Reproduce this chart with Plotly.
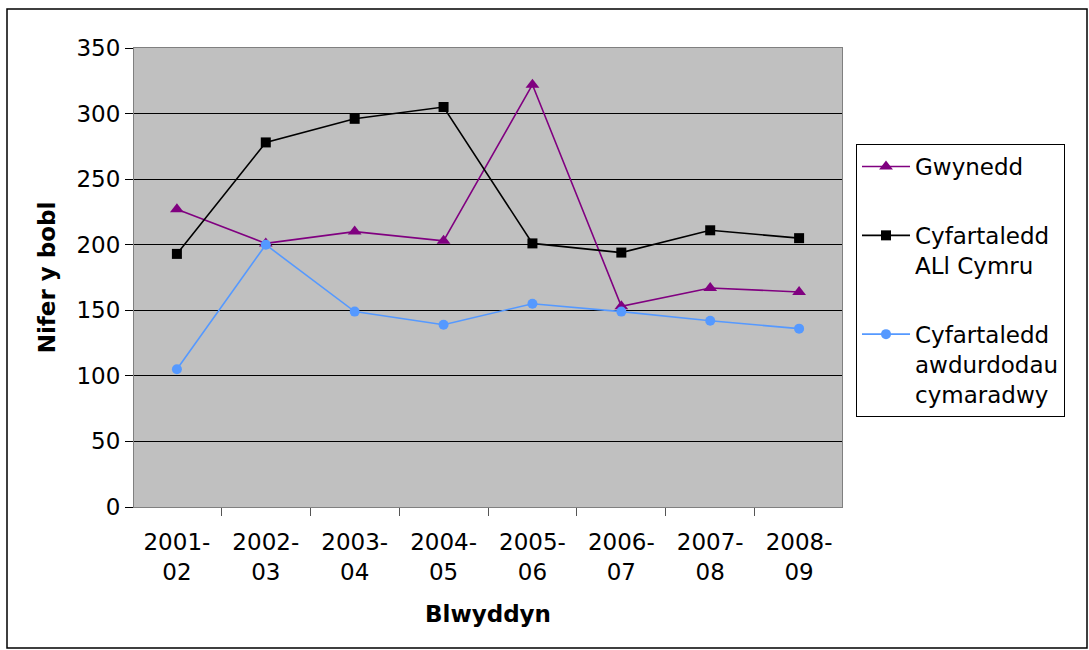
import plotly.graph_objects as go

years = ["2001-<br>02", "2002-<br>03", "2003-<br>04", "2004-<br>05",
         "2005-<br>06", "2006-<br>07", "2007-<br>08", "2008-<br>09"]
gwynedd = [227, 201, 210, 203, 322, 153, 167, 164]
cymru = [193, 278, 296, 305, 201, 194, 211, 205]
cymaradwy = [105, 200, 149, 139, 155, 149, 142, 136]

FONT = "DejaVu Sans"
FS = 23
fig = go.Figure()
fig.add_trace(go.Scatter(x=years, y=gwynedd, name="Gwynedd", mode="lines+markers",
                         legendgroup="a",
                         line=dict(color="#800080", width=1.6),
                         marker=dict(symbol="triangle-up", size=12, color="#800080")))
fig.add_trace(go.Scatter(x=years, y=cymru, name="Cyfartaledd<br>ALl Cymru", mode="lines+markers",
                         legendgroup="b",
                         line=dict(color="#000000", width=1.6),
                         marker=dict(symbol="square", size=10, color="#000000")))
fig.add_trace(go.Scatter(x=years, y=cymaradwy, name="Cyfartaledd<br>awdurdodau<br>cymaradwy",
                         mode="lines+markers", legendgroup="c",
                         line=dict(color="#5599FF", width=1.6),
                         marker=dict(symbol="circle", size=10, color="#5599FF")))

L, R, T, B = 134, 842, 48, 507
W, H = 1089, 650
pw, ph = R - L, B - T

fig.update_layout(
    width=W, height=H,
    margin=dict(l=L, r=W - R, t=T, b=H - B, autoexpand=False),
    paper_bgcolor="white", plot_bgcolor="#C0C0C0",
    font=dict(family=FONT, size=FS, color="black"),
    showlegend=True,
    legend=dict(x=(856 - L) / pw, y=(B - 144) / ph, xanchor="left", yanchor="top",
                bordercolor="black", borderwidth=1, bgcolor="white", valign="top",
                font=dict(family=FONT, size=FS), tracegroupgap=36,
                itemwidth=48),
    xaxis=dict(showgrid=False, ticks="outside", tickson="boundaries", ticklen=8,
               tickcolor="#555555", showline=True, linecolor="#808080", mirror=True,
               ticklabelstandoff=14,
               title=dict(text="<b>Blwyddyn</b>", font=dict(family=FONT, size=FS), standoff=22),
               tickfont=dict(family=FONT, size=FS)),
    yaxis=dict(range=[0, 350], dtick=50, showgrid=True, gridcolor="black", gridwidth=1,
               ticks="outside", ticklen=8, tickcolor="black", showline=True,
               linecolor="#808080", mirror=True, zeroline=False,
               title=dict(text="<b>Nifer y bobl</b>", font=dict(family=FONT, size=FS), standoff=14),
               tickfont=dict(family=FONT, size=FS)),
    shapes=[dict(type="rect", xref="paper", yref="paper",
                 x0=(7 - L) / pw, x1=(1087 - L) / pw,
                 y0=(B - 648) / ph, y1=(B - 9) / ph,
                 line=dict(color="black", width=1.5), fillcolor="rgba(0,0,0,0)", layer="below")],
)
fig.write_html("out.html", config={"displayModeBar": False},
               post_script="document.body.style.margin='0';document.body.style.padding='0';")
